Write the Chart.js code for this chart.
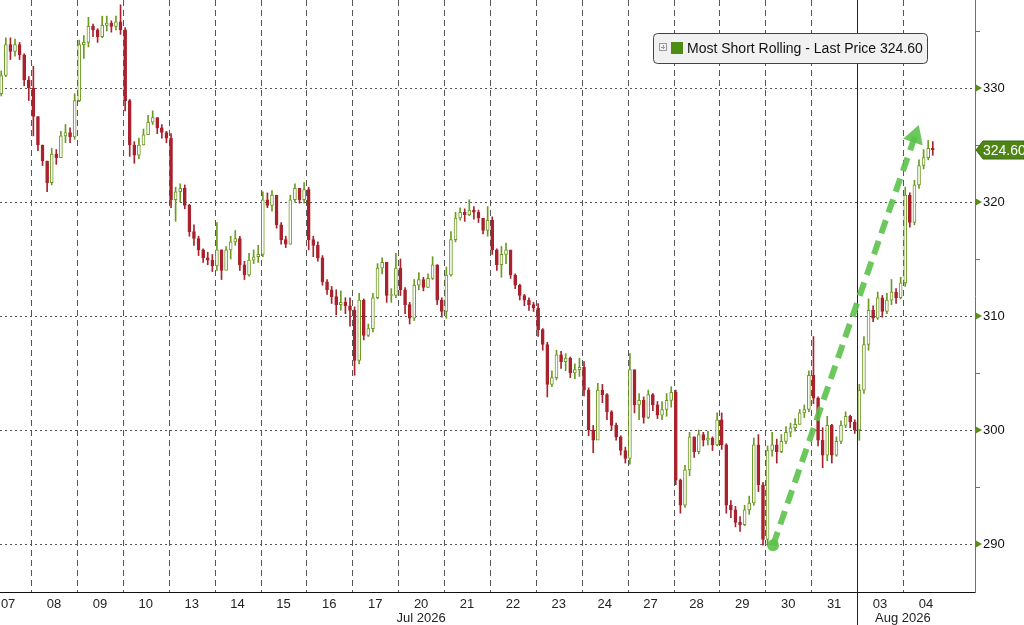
<!DOCTYPE html>
<html>
<head>
<meta charset="utf-8">
<title>Most Short Rolling</title>
<script src="https://cdn.jsdelivr.net/npm/chart.js@4.4.1/dist/chart.umd.min.js"></script>
<style>
  html, body { margin: 0; padding: 0; background: #fff; }
  #wrap { position: relative; width: 1024px; height: 625px; }
</style>
</head>
<body>
<div id="wrap"><canvas id="myChart"></canvas></div>
<script>
// trading days on the x axis (Jul 07 -> Aug 04 2026)
const dayLabels = ['07', '08', '09', '10', '13', '14', '15', '16', '17', '20', '21',
                   '22', '23', '24', '27', '28', '29', '30', '31', '03', '04'];
const monthLabels = [{ text: 'Jul 2026', at: 9.5 }, { text: 'Aug 2026', at: 20 }];
const monthBreak = 19; // between Jul 31 and Aug 03

// candles: 10 slots per day, the first one sits in slot 4 of day 07
const firstSlot = 0.35;
const slotsPerDay = 10;
const firstOpen = 329.5;

const closes = [
  331.1, 333.8, 333.2, 333.8, 332.9, 330.7, 330.0,                      // 07
  327.5, 325.0, 323.6, 321.7, 324.2, 323.9, 325.8, 326.1, 325.7, 328.9, // 08
  333.8, 334.0, 335.4, 335.1, 334.5, 335.5, 335.7, 335.4, 335.8, 335.1, // 09
  328.9, 325.0, 324.1, 325.0, 325.9, 327.0, 327.4, 326.5, 326.1, 325.6, // 10
  320.2, 320.9, 321.2, 319.7, 317.4, 316.8, 315.8, 315.1, 314.9, 314.4, // 13
  315.8, 314.0, 315.8, 316.5, 316.8, 314.5, 313.6, 314.9, 315.2, 315.4, // 14
  320.2, 319.7, 320.6, 318.0, 316.7, 316.3, 320.2, 321.2, 320.2, 321.1, // 15
  316.7, 316.2, 315.1, 313.0, 312.3, 311.7, 311.0, 311.2, 310.9, 310.5, // 16
  306.1, 311.4, 308.3, 308.9, 311.6, 314.2, 314.7, 311.8, 311.8, 314.2, // 17
  312.3, 311.0, 309.8, 312.7, 313.2, 312.5, 313.3, 314.5, 311.4, 310.4, // 20
  313.6, 316.7, 318.6, 319.1, 318.9, 319.3, 319.1, 318.6, 317.5, 318.4, // 21
  315.8, 314.5, 315.4, 315.8, 313.6, 312.7, 311.8, 311.4, 311.0, 310.7, // 22
  308.8, 307.5, 304.0, 304.6, 306.6, 306.0, 306.3, 305.0, 305.3, 305.5, // 23
  303.5, 300.0, 299.1, 303.5, 303.1, 301.6, 300.4, 299.4, 298.2, 297.5, // 24
  305.3, 302.2, 302.6, 301.1, 303.1, 302.2, 301.3, 301.8, 302.6, 303.3, // 27
  295.6, 293.4, 296.5, 299.4, 298.1, 299.6, 299.1, 299.3, 298.7, 300.9, // 28
  298.7, 293.4, 293.0, 291.9, 291.7, 293.0, 293.6, 298.7, 295.2, 290.4, // 29
  298.2, 298.7, 298.1, 299.0, 299.8, 300.2, 300.5, 301.5, 301.8, 304.8, // 30
  302.8, 299.1, 297.8, 300.4, 297.8, 299.0, 300.4, 301.2, 300.7, 300.0, // 31
  303.5, 307.5, 310.5, 309.8, 311.6, 310.4, 311.4, 312.1, 311.6, 312.9, // 03
  320.6, 318.2, 321.5, 323.2, 323.9, 324.7, 324.6                       // 04
];
const highs = [
  331.5, 334.4, 334.4, 334.3, 334.0, 333.0, 331.0,
  331.9, 327.5, 325.0, 323.6, 324.7, 324.6, 326.2, 326.8, 326.5, 329.5,
  334.2, 334.6, 336.2, 335.6, 335.2, 336.3, 336.3, 335.9, 336.3, 337.3,
  335.3, 329.0, 325.3, 325.6, 326.4, 327.6, 328.0, 327.4, 326.8, 326.2,
  326.0, 321.3, 321.6, 321.5, 319.8, 318.0, 317.0, 315.9, 315.6, 315.4,
  318.2, 315.8, 316.1, 317.0, 317.5, 317.0, 314.8, 315.5, 315.8, 316.2,
  320.9, 320.8, 321.0, 320.4, 318.2, 317.0, 320.6, 321.6, 321.2, 321.7,
  321.3, 317.0, 316.5, 315.3, 313.2, 312.6, 312.3, 312.2, 311.6, 311.6,
  310.8, 312.0, 311.5, 309.3, 312.0, 314.6, 315.1, 314.7, 312.4, 315.5,
  315.0, 312.5, 311.2, 313.2, 313.8, 313.4, 313.7, 315.2, 314.5, 311.6,
  314.3, 317.4, 319.1, 319.5, 319.4, 320.2, 319.6, 319.3, 318.5, 319.6,
  318.7, 315.9, 316.1, 316.4, 315.6, 313.7, 312.8, 311.9, 311.6, 311.2,
  311.1, 308.9, 307.7, 305.2, 307.0, 306.9, 306.7, 306.4, 305.8, 306.3,
  306.0, 303.7, 300.4, 304.1, 304.0, 303.2, 301.7, 300.6, 299.5, 298.5,
  306.7, 304.6, 303.2, 302.9, 303.5, 303.2, 302.5, 302.5, 303.2, 303.8,
  303.5, 295.7, 296.9, 299.8, 299.4, 300.0, 299.8, 299.9, 299.4, 301.5,
  301.5, 298.8, 293.8, 293.3, 292.4, 293.4, 294.2, 299.3, 299.6, 295.4,
  298.6, 299.8, 299.2, 299.6, 300.3, 300.6, 301.0, 301.8, 302.2, 305.2,
  308.2, 302.9, 300.2, 301.2, 300.5, 299.4, 300.8, 301.6, 301.3, 300.9,
  304.0, 308.2, 311.5, 310.9, 312.1, 311.8, 312.0, 313.2, 312.4, 313.4,
  321.3, 320.8, 321.9, 323.7, 324.6, 325.4, 325.3
];
const lows = [
  329.3, 331.0, 332.5, 332.8, 332.5, 330.2, 328.9,
  325.8, 324.5, 323.2, 320.9, 321.5, 323.3, 324.2, 325.2, 325.2, 325.5,
  328.8, 332.6, 333.6, 334.5, 334.0, 334.4, 335.0, 334.9, 335.1, 334.7,
  328.0, 324.0, 323.4, 323.8, 325.0, 326.0, 326.8, 326.0, 325.6, 325.2,
  319.5, 318.3, 320.0, 319.4, 317.0, 316.2, 315.3, 314.7, 314.5, 313.9,
  314.0, 313.2, 314.3, 315.0, 316.2, 314.0, 313.2, 313.5, 314.6, 314.7,
  315.2, 319.5, 319.2, 317.7, 316.3, 316.0, 316.3, 320.0, 319.9, 319.9,
  315.8, 315.2, 314.8, 312.7, 311.9, 311.1, 310.1, 310.5, 310.2, 309.1,
  304.8, 305.8, 307.9, 308.2, 308.6, 311.5, 313.7, 311.2, 311.2, 311.6,
  311.8, 310.2, 309.3, 309.6, 312.3, 312.2, 312.5, 313.2, 311.0, 309.9,
  309.8, 313.5, 316.5, 318.4, 318.3, 318.8, 318.5, 318.2, 317.2, 317.0,
  315.4, 314.0, 313.4, 314.6, 313.3, 312.4, 311.4, 310.9, 310.5, 310.4,
  308.2, 307.0, 302.9, 303.8, 304.4, 305.4, 305.2, 304.6, 304.5, 304.7,
  303.0, 299.5, 298.0, 299.3, 302.4, 300.9, 300.0, 299.1, 297.8, 297.1,
  297.0, 301.5, 300.9, 300.6, 301.0, 301.7, 301.0, 300.9, 301.2, 302.0,
  295.2, 292.7, 293.2, 296.0, 297.6, 297.9, 298.6, 298.7, 298.2, 298.6,
  298.3, 292.7, 292.3, 291.5, 291.1, 291.6, 292.6, 293.4, 294.6, 289.9,
  289.9, 297.7, 297.1, 298.0, 298.8, 299.4, 299.9, 300.5, 301.1, 301.6,
  302.3, 298.6, 296.7, 297.3, 297.1, 297.7, 298.8, 300.2, 300.2, 299.7,
  299.1, 303.2, 307.0, 309.5, 309.7, 309.9, 310.2, 311.0, 311.1, 311.5,
  312.6, 317.8, 318.0, 321.2, 322.9, 323.7, 324.1
];

const yTicks = [290, 295, 300, 305, 310, 315, 320, 325, 330, 335];
const lastPrice = 324.60;
const seriesName = 'Most Short Rolling - Last Price';

// hand-drawn trend arrow (data coordinates)
const arrowFrom = { x: 17.17, y: 289.9 };
const arrowTo = { x: 20.26, y: 325.75 };

const UP = '#6c9a22';
const DOWN = '#a8232e';
const AXIS_GREEN = '#5b8c1c';
const FONT = 'Liberation Sans, Arial, sans-serif';

// build the candles
const wickData = [], bodyData = [], wickColors = [], bodyFill = [], bodyBorder = [];
closes.forEach((c, i) => {
    const x = firstSlot + i / slotsPerDay;
    const o = i === 0 ? firstOpen : closes[i - 1];
    const up = c >= o;
    wickData.push({ x: x, y: [lows[i], highs[i]] });
    bodyData.push({ x: x, y: [o, c] });
    wickColors.push(up ? UP : DOWN);
    bodyFill.push(up ? '#ffffff' : DOWN);
    bodyBorder.push(up ? UP : DOWN);
});

// dashed day separators + solid month break
const separators = {
    id: 'separators',
    beforeDatasetsDraw(chart) {
        const { ctx, chartArea, scales: { x } } = chart;
        ctx.save();
        ctx.lineWidth = 1;
        for (let i = 1; i < dayLabels.length; i++) {
            const px = Math.round(x.getPixelForValue(i)) + 0.5;
            ctx.beginPath();
            if (i === monthBreak) {
                ctx.setLineDash([]);
                ctx.strokeStyle = '#222';
                ctx.moveTo(px, chartArea.top);
                ctx.lineTo(px, chart.height);
            } else {
                ctx.setLineDash([6, 4]);
                ctx.strokeStyle = '#555';
                ctx.moveTo(px, chartArea.top);
                ctx.lineTo(px, chartArea.bottom);
            }
            ctx.stroke();
        }
        ctx.restore();
    }
};

// legend box, month labels, axis markers and last price tag
const decorations = {
    id: 'decorations',
    afterDraw(chart) {
        const { ctx, chartArea, scales: { x, y } } = chart;
        ctx.save();

        // month labels under the day ticks
        ctx.fillStyle = '#222';
        ctx.font = '13px ' + FONT;
        ctx.textAlign = 'center';
        ctx.textBaseline = 'middle';
        monthLabels.forEach(m => ctx.fillText(m.text, x.getPixelForValue(m.at), 618));

        // green triangles on the major y ticks
        ctx.fillStyle = AXIS_GREEN;
        yTicks.filter(v => v % 10 === 0).forEach(v => {
            const py = y.getPixelForValue(v);
            ctx.beginPath();
            ctx.moveTo(chartArea.right, py - 4);
            ctx.lineTo(chartArea.right + 7, py);
            ctx.lineTo(chartArea.right, py + 4);
            ctx.closePath();
            ctx.fill();
        });

        // last price tag
        const ty = Math.round(y.getPixelForValue(lastPrice));
        const left = chartArea.right + 1;
        ctx.beginPath();
        ctx.moveTo(left, ty);
        ctx.lineTo(left + 7, ty - 9);
        ctx.lineTo(chart.width, ty - 9);
        ctx.lineTo(chart.width, ty + 9);
        ctx.lineTo(left + 7, ty + 9);
        ctx.closePath();
        ctx.fillStyle = '#4f8516';
        ctx.fill();
        ctx.strokeStyle = '#3a6a0c';
        ctx.lineWidth = 1;
        ctx.stroke();
        ctx.fillStyle = '#fff';
        ctx.textAlign = 'left';
        ctx.font = '14px ' + FONT;
        ctx.fillText(lastPrice.toFixed(2), left + 7, ty + 1);

        // legend box
        ctx.beginPath();
        ctx.roundRect(653.5, 33.5, 274, 30, 4);
        ctx.fillStyle = '#f1f1f1';
        ctx.fill();
        ctx.strokeStyle = '#444';
        ctx.stroke();
        ctx.strokeStyle = '#999';
        ctx.strokeRect(659.5, 43.5, 7, 7);
        ctx.beginPath();
        ctx.moveTo(661, 47.5); ctx.lineTo(665, 47.5);
        ctx.moveTo(663.5, 45); ctx.lineTo(663.5, 49);
        ctx.stroke();
        ctx.fillStyle = '#4d8c12';
        ctx.fillRect(671, 42, 12, 12);
        ctx.fillStyle = '#111';
        ctx.font = '14px ' + FONT;
        ctx.fillText(seriesName + ' ' + lastPrice.toFixed(2), 687, 49);

        ctx.restore();
    }
};

const config = {
    type: 'bar',
    data: {
        datasets: [
            {
                label: 'arrow',
                type: 'line',
                data: [arrowFrom, arrowTo],
                borderColor: 'rgba(92, 194, 74, 0.9)',
                borderWidth: 6,
                borderDash: [14, 8],
                pointStyle: ['circle', 'triangle'],
                pointRadius: [6, 12],
                pointRotation: [0, 19],
                pointBackgroundColor: 'rgba(92, 194, 74, 0.9)',
                pointBorderWidth: 0,
                order: 0
            },
            {
                label: 'bodies',
                data: bodyData,
                backgroundColor: bodyFill,
                borderColor: bodyBorder,
                borderWidth: 1,
                borderSkipped: false,
                barThickness: 3,
                minBarLength: 1,
                grouped: false,
                order: 1
            },
            {
                label: 'wicks',
                data: wickData,
                backgroundColor: wickColors,
                borderWidth: 0,
                barThickness: 1,
                grouped: false,
                order: 2
            }
        ]
    },
    options: {
        responsive: true,
        maintainAspectRatio: false,
        animation: false,
        layout: { padding: 0, autoPadding: false },
        scales: {
            x: {
                type: 'linear',
                offset: false,
                min: 0.323,
                max: 21.57,
                afterBuildTicks: s => { s.ticks = dayLabels.map((_, i) => ({ value: i + 0.5 })); },
                afterFit: s => { s.height = 33; s.paddingLeft = 0; s.paddingRight = 0; },
                grid: { display: false, drawTicks: false, offset: false },
                border: { display: true, color: '#111', width: 1 },
                ticks: {
                    autoSkip: false,
                    maxRotation: 0,
                    padding: 5,
                    color: '#222',
                    font: { family: FONT, size: 13 },
                    callback: (v, i) => dayLabels[i]
                }
            },
            y: {
                position: 'right',
                min: 285.79,
                max: 337.72,
                afterBuildTicks: s => { s.ticks = yTicks.map(v => ({ value: v })); },
                afterFit: s => { s.width = 49; s.paddingTop = 0; s.paddingBottom = 0; },
                grid: {
                    color: c => (c.tick && c.tick.value % 10 === 0) ? '#555' : 'rgba(0,0,0,0)',
                    lineWidth: 1,
                    drawTicks: true,
                    tickLength: 5,
                    tickColor: AXIS_GREEN
                },
                border: { display: true, color: AXIS_GREEN, width: 1, dash: [2, 3] },
                ticks: {
                    padding: 3,
                    color: '#111',
                    font: { family: FONT, size: 13 },
                    callback: v => (v % 10 === 0 ? v : '')
                }
            }
        },
        plugins: {
            legend: { display: false },
            tooltip: { enabled: false }
        }
    },
    plugins: [separators, decorations]
};

const ctx = document.getElementById('myChart').getContext('2d');
new Chart(ctx, config);
</script>
</body>
</html>
